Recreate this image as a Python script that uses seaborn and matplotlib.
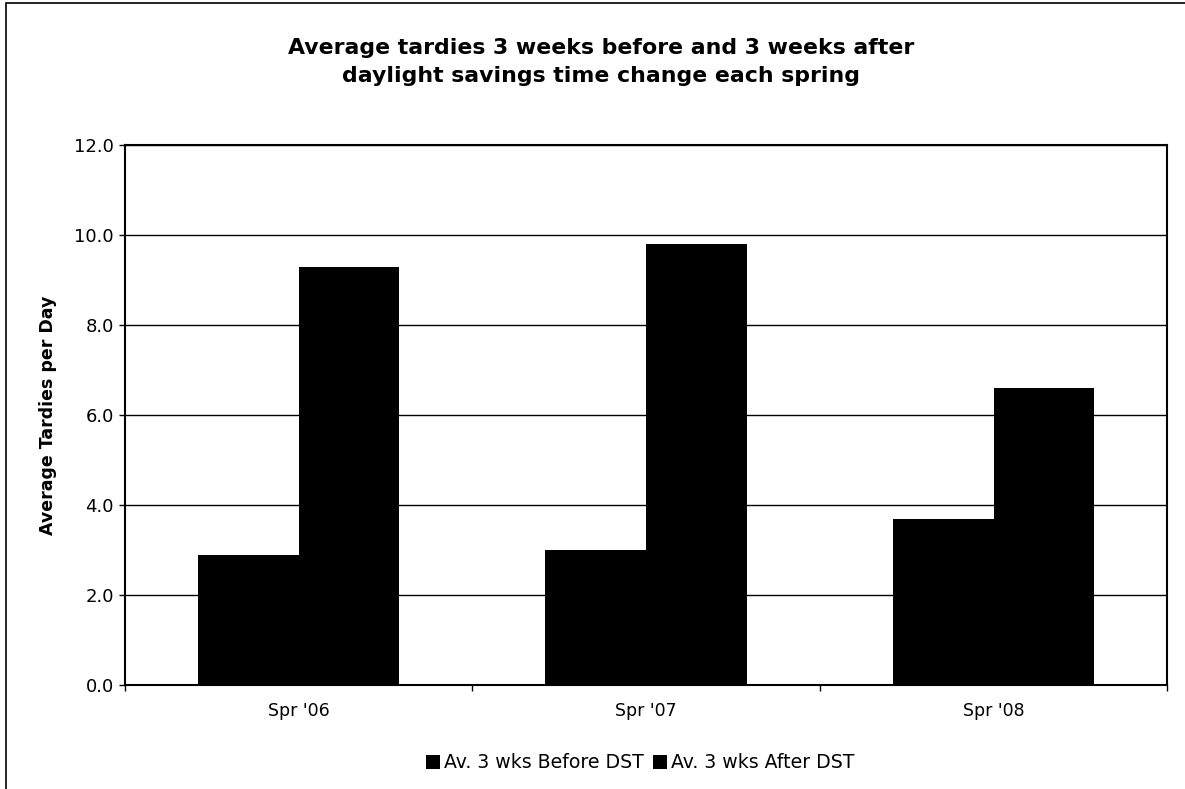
import numpy as np
import pandas as pd
import seaborn as sns
import matplotlib.pyplot as plt
from matplotlib.patches import Rectangle
from matplotlib.ticker import FixedLocator

seasons = ["Spr '06", "Spr '07", "Spr '08"]
before_dst = [2.9, 3.0, 3.7]
after_dst = [9.3, 9.8, 6.6]
series_names = ['Av. 3 wks Before DST', 'Av. 3 wks After DST']
y_ticks = [0, 2, 4, 6, 8, 10, 12]

df = pd.DataFrame({
    'season': seasons * 2,
    'value': before_dst + after_dst,
    'series': [series_names[0]] * 3 + [series_names[1]] * 3,
})

sns.set_theme(style='white')
plt.rcParams['font.family'] = ['DejaVu Sans']
plt.rcParams['text.color'] = 'black'
plt.rcParams['axes.labelcolor'] = 'black'
plt.rcParams['xtick.color'] = 'black'
plt.rcParams['ytick.color'] = 'black'

fig = plt.figure(figsize=(11.85, 7.89), dpi=100, facecolor='w')
ax = fig.add_axes([0.1055, 0.1318, 0.8795, 0.6844])

sns.barplot(data=df, x='season', y='value', hue='series', palette=['black', 'black'],
            width=0.58, saturation=1, ax=ax, legend=True, edgecolor='black', linewidth=0)

ax.set_ylim(0, 12)
ax.set_xlim(-0.5, 2.5)
ax.set_yticks(y_ticks)
ax.set_yticklabels(['%.1f' % v for v in y_ticks], fontsize=13)
ax.yaxis.grid(True, color='black', linewidth=1)
ax.set_axisbelow(True)
for s in ax.spines.values():
    s.set_color('black')
    s.set_linewidth(1.5)
ax.tick_params(axis='y', left=True, length=4, width=1, color='black', pad=4)
ax.tick_params(axis='x', which='major', length=0, pad=12, labelsize=12.5)
ax.xaxis.set_minor_locator(FixedLocator([-0.5, 0.5, 1.5, 2.5]))
ax.tick_params(axis='x', which='minor', bottom=True, length=4, width=1, color='black')
ax.set_xlabel('')
ax.set_ylabel('Average Tardies per Day', fontsize=12.5, fontweight='bold', labelpad=12)

handles, labels = ax.get_legend_handles_labels()
ax.get_legend().remove()
fig.legend(handles, labels, loc='center', bbox_to_anchor=(0.54, 0.033), ncol=2,
           frameon=False, fontsize=13.6, handlelength=0.75, handleheight=0.75,
           handletextpad=0.2, columnspacing=0.5)

fig.text(601 / 1185, 1 - 62 / 789, 'Average tardies 3 weeks before and 3 weeks after\n'
         'daylight savings time change each spring', ha='center', va='center',
         fontsize=15.8, fontweight='bold', linespacing=1.45)

fig.patches.append(Rectangle((0.005, -0.01), 1.0, 1.006, transform=fig.transFigure,
                             fill=False, edgecolor='black', linewidth=1.2))

fig.savefig('out.png', dpi=100, facecolor='w')
